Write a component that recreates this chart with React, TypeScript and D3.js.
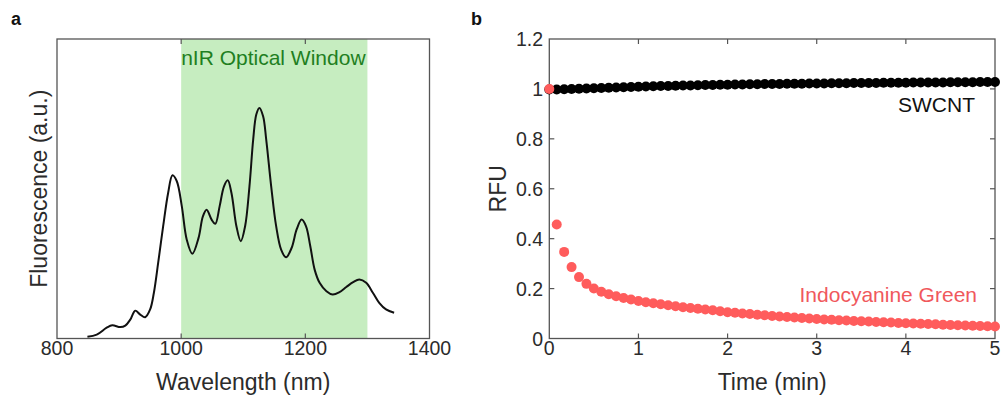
import React from "react";
import * as d3 from "d3";

// Panel a: fluorescence spectrum
const wavelengths = [849, 864, 880, 889, 902, 910, 918, 926, 934, 942, 950, 956, 963, 971, 979, 986, 993, 1001, 1009, 1018, 1028, 1035, 1041, 1049, 1055, 1062, 1069, 1075, 1081, 1089, 1096, 1103, 1110, 1116, 1121, 1126, 1132, 1137, 1145, 1153, 1161, 1169, 1178, 1186, 1194, 1201, 1208, 1215, 1223, 1234, 1244, 1255, 1266, 1277, 1287, 1298, 1309, 1319, 1330, 1343];
const fluorescence = [0.006, 0.013, 0.036, 0.044, 0.038, 0.043, 0.063, 0.093, 0.080, 0.071, 0.097, 0.152, 0.253, 0.375, 0.486, 0.545, 0.525, 0.442, 0.330, 0.283, 0.336, 0.408, 0.430, 0.397, 0.383, 0.442, 0.508, 0.528, 0.486, 0.375, 0.325, 0.375, 0.508, 0.664, 0.748, 0.770, 0.742, 0.664, 0.508, 0.375, 0.297, 0.271, 0.303, 0.364, 0.397, 0.375, 0.308, 0.230, 0.186, 0.158, 0.147, 0.155, 0.172, 0.188, 0.197, 0.186, 0.152, 0.119, 0.097, 0.086];
const windowRange = [1000, 1300];
const xTicksA = [800, 1000, 1200, 1400];

// Panel b: RFU over time (seconds)
const timeSec = [0, 5, 10, 15, 20, 25, 30, 35, 40, 45, 50, 55, 60, 65, 70, 75, 80, 85, 90, 95, 100, 105, 110, 115, 120, 125, 130, 135, 140, 145, 150, 155, 160, 165, 170, 175, 180, 185, 190, 195, 200, 205, 210, 215, 220, 225, 230, 235, 240, 245, 250, 255, 260, 265, 270, 275, 280, 285, 290, 295, 300];
const swcnt = [0.998, 0.998, 0.999, 1.000, 1.001, 1.002, 1.003, 1.004, 1.005, 1.006, 1.007, 1.008, 1.009, 1.010, 1.011, 1.012, 1.012, 1.013, 1.014, 1.014, 1.015, 1.016, 1.016, 1.017, 1.017, 1.018, 1.018, 1.019, 1.019, 1.020, 1.020, 1.020, 1.021, 1.021, 1.021, 1.022, 1.022, 1.022, 1.023, 1.023, 1.023, 1.024, 1.024, 1.024, 1.024, 1.025, 1.025, 1.025, 1.025, 1.026, 1.026, 1.026, 1.026, 1.026, 1.027, 1.027, 1.027, 1.027, 1.028, 1.028, 1.028];
const icg = [1.000, 0.457, 0.347, 0.286, 0.246, 0.219, 0.200, 0.187, 0.177, 0.169, 0.162, 0.156, 0.150, 0.145, 0.141, 0.137, 0.133, 0.129, 0.125, 0.122, 0.119, 0.116, 0.113, 0.109, 0.105, 0.103, 0.100, 0.098, 0.095, 0.093, 0.090, 0.088, 0.086, 0.084, 0.082, 0.080, 0.078, 0.076, 0.075, 0.073, 0.072, 0.070, 0.069, 0.068, 0.066, 0.065, 0.064, 0.062, 0.061, 0.060, 0.059, 0.058, 0.057, 0.055, 0.054, 0.053, 0.052, 0.051, 0.050, 0.049, 0.048];
const xTicksB = [0, 1, 2, 3, 4, 5];
const yTicksB = [0, 0.2, 0.4, 0.6, 0.8, 1, 1.2];

const FONT = "'Liberation Sans', Arial, Helvetica, sans-serif";
const AXIS = "#555";
const TXT = "#2b2b2b";
const RED = "#ff5c5c";
const TICK_FS = 19.5;
const LABEL_FS = 23;

export default function App() {
  const top = 39;
  const bottom = 338.5;

  // Panel a
  const xa = d3.scaleLinear().domain([800, 1400]).range([57, 429.5]);
  const ya = d3.scaleLinear().domain([0, 1]).range([bottom, top]);
  const line = d3
    .line<number>()
    .x((_, i) => xa(wavelengths[i]))
    .y((d) => ya(d))
    .curve(d3.curveCatmullRom.alpha(0.5));

  // Panel b
  const xb = d3.scaleLinear().domain([0, 5]).range([549.3, 995]);
  const yb = d3.scaleLinear().domain([0, 1.2]).range([bottom, top]);
  const tl = 5;

  return (
    <svg
      width={1006}
      height={396}
      style={{ position: "absolute", left: 0, top: 0, background: "#fff" }}
      fontFamily={FONT}
    >
      {/* Panel labels */}
      <text x={11} y={25} fontSize={18} fontWeight="bold" fill="#111">a</text>
      <text x={471} y={25} fontSize={18} fontWeight="bold" fill="#111">b</text>

      {/* ===== Panel a ===== */}
      <rect
        x={xa(windowRange[0])}
        y={top}
        width={xa(windowRange[1]) - xa(windowRange[0])}
        height={bottom - top}
        fill="#c6edc0"
      />
      <path d={line(fluorescence) || ""} fill="none" stroke="#111" strokeWidth={2} />
      <rect x={xa(800)} y={top} width={xa(1400) - xa(800)} height={bottom - top} fill="none" stroke={AXIS} strokeWidth={1.3} />
      {xTicksA.slice(1, -1).map((t) => (
        <g key={t}>
          <line x1={xa(t)} x2={xa(t)} y1={bottom} y2={bottom - tl} stroke={AXIS} strokeWidth={1.2} />
          <line x1={xa(t)} x2={xa(t)} y1={top} y2={top + tl} stroke={AXIS} strokeWidth={1.2} />
        </g>
      ))}
      {xTicksA.map((t) => (
        <text key={t} x={xa(t)} y={355} fontSize={TICK_FS} fill={TXT} textAnchor="middle">{t}</text>
      ))}
      <text x={(xa(800) + xa(1400)) / 2} y={390} fontSize={LABEL_FS} fill={TXT} textAnchor="middle">Wavelength (nm)</text>
      <text transform={`translate(47,${(top + bottom) / 2}) rotate(-90)`} fontSize={LABEL_FS} fill={TXT} textAnchor="middle">Fluorescence (a.u.)</text>
      <text x={xa(1000)} y={65} fontSize={21} fill="#1f7f22">nIR Optical Window</text>

      {/* ===== Panel b ===== */}
      <rect x={xb(0)} y={top} width={xb(5) - xb(0)} height={bottom - top} fill="none" stroke={AXIS} strokeWidth={1.3} />
      {xTicksB.slice(1, -1).map((t) => (
        <g key={t}>
          <line x1={xb(t)} x2={xb(t)} y1={bottom} y2={bottom - tl} stroke={AXIS} strokeWidth={1.2} />
          <line x1={xb(t)} x2={xb(t)} y1={top} y2={top + tl} stroke={AXIS} strokeWidth={1.2} />
        </g>
      ))}
      {yTicksB.slice(1, -1).map((t) => (
        <g key={t}>
          <line x1={xb(0)} x2={xb(0) + tl} y1={yb(t)} y2={yb(t)} stroke={AXIS} strokeWidth={1.2} />
          <line x1={xb(5)} x2={xb(5) - tl} y1={yb(t)} y2={yb(t)} stroke={AXIS} strokeWidth={1.2} />
        </g>
      ))}
      {xTicksB.map((t) => (
        <text key={t} x={xb(t)} y={355} fontSize={TICK_FS} fill={TXT} textAnchor="middle">{t}</text>
      ))}
      {yTicksB.map((t) => (
        <text key={t} x={543} y={yb(t) + 7} fontSize={TICK_FS} fill={TXT} textAnchor="end">{String(t)}</text>
      ))}
      <text x={(xb(0) + xb(5)) / 2} y={390} fontSize={LABEL_FS} fill={TXT} textAnchor="middle">Time (min)</text>
      <text transform={`translate(506,${(top + bottom) / 2}) rotate(-90)`} fontSize={LABEL_FS} fill={TXT} textAnchor="middle">RFU</text>

      {swcnt.map((v, i) => (
        <circle key={"s" + i} cx={xb(timeSec[i] / 60)} cy={yb(v)} r={5} fill="#000" />
      ))}
      {icg.map((v, i) => (
        <circle key={"g" + i} cx={xb(timeSec[i] / 60)} cy={yb(v)} r={5} fill={RED} />
      ))}

      <text x={975} y={112} fontSize={21} fill="#111" textAnchor="end">SWCNT</text>
      <text x={977} y={302} fontSize={21} fill="#f0585c" textAnchor="end">Indocyanine Green</text>
    </svg>
  );
}
